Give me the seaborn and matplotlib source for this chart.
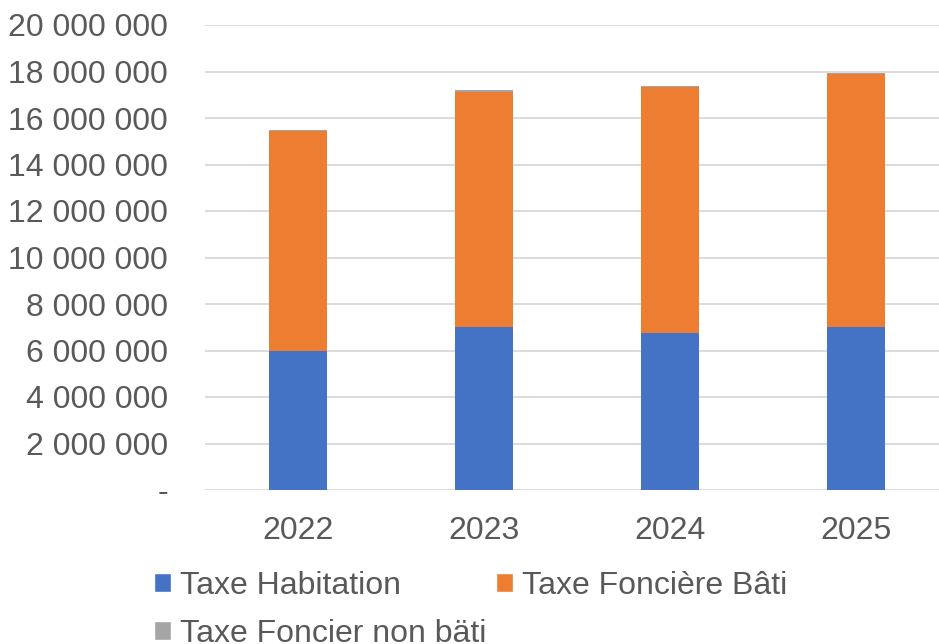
import matplotlib
matplotlib.use("Agg")
import matplotlib.pyplot as plt
import seaborn as sns
import pandas as pd
import numpy as np
from matplotlib.patches import Patch
from matplotlib.ticker import FuncFormatter

years = ["2022", "2023", "2024", "2025"]
taxe_habitation = [5980000, 7000000, 6770000, 7020000]
taxe_fonciere_bati = [9450000, 10130000, 10580000, 10870000]
taxe_foncier_non_bati = [50000, 55000, 45000, 50000]

series_names = ["Taxe Habitation", "Taxe Foncière Bâti", "Taxe Foncier non bäti"]
colors = ["#4472C4", "#ED7D31", "#A5A5A5"]

sns.set_style("white")
plt.rcParams["font.family"] = ["Liberation Sans", "DejaVu Sans"]
text_color = "#595959"
fs = 23

df = pd.DataFrame({
    "year": years,
    "hab": taxe_habitation,
    "fon": taxe_fonciere_bati,
    "non": taxe_foncier_non_bati,
})
df["c1"] = df["hab"]
df["c2"] = df["hab"] + df["fon"]
df["c3"] = df["c2"] + df["non"]

fig = plt.figure(figsize=(9.39, 6.44), dpi=100)
ax = fig.add_axes([205 / 939, (644 - 490) / 644, (939 - 205) / 939, (490 - 25) / 644])

bw = 58 / 186
for col, color in zip(["c3", "c2", "c1"], [colors[2], colors[1], colors[0]]):
    sns.barplot(data=df, x="year", y=col, color=color, width=bw, ax=ax,
                saturation=1, edgecolor="none", linewidth=0, zorder=3)

ax.set_xlim(-0.5, -0.5 + 734 / 186)
ax.set_ylim(0, 20000000)
ax.set_yticks(np.arange(0, 20000001, 2000000))

def fmt(v, pos):
    if v == 0:
        return "-"
    return f"{int(v):,}".replace(",", " ")

ax.yaxis.set_major_formatter(FuncFormatter(fmt))
ax.grid(axis="y", color="#D9D9D9", linewidth=1.3, zorder=0)
ax.set_axisbelow(True)
for s in ax.spines.values():
    s.set_visible(False)
ax.set_xlabel("")
ax.set_ylabel("")
ax.tick_params(axis="both", length=0, labelsize=fs, colors=text_color)
ax.tick_params(axis="y", pad=26.6)
ax.tick_params(axis="x", pad=18.5)

handles = [Patch(facecolor=colors[0]), Patch(facecolor=colors[2]), Patch(facecolor=colors[1])]
labels = [series_names[0], series_names[2], series_names[1]]
leg = fig.legend(handles, labels, ncol=2, loc="upper left",
                 bbox_to_anchor=(154 / 939, 1 - 571 / 644),
                 frameon=False, fontsize=fs, labelcolor=text_color,
                 handlelength=0.52, handleheight=0.52, handletextpad=0.3,
                 columnspacing=0.3, labelspacing=0.55, borderaxespad=0,
                 borderpad=0)

fig.savefig("out.png", dpi=100)
